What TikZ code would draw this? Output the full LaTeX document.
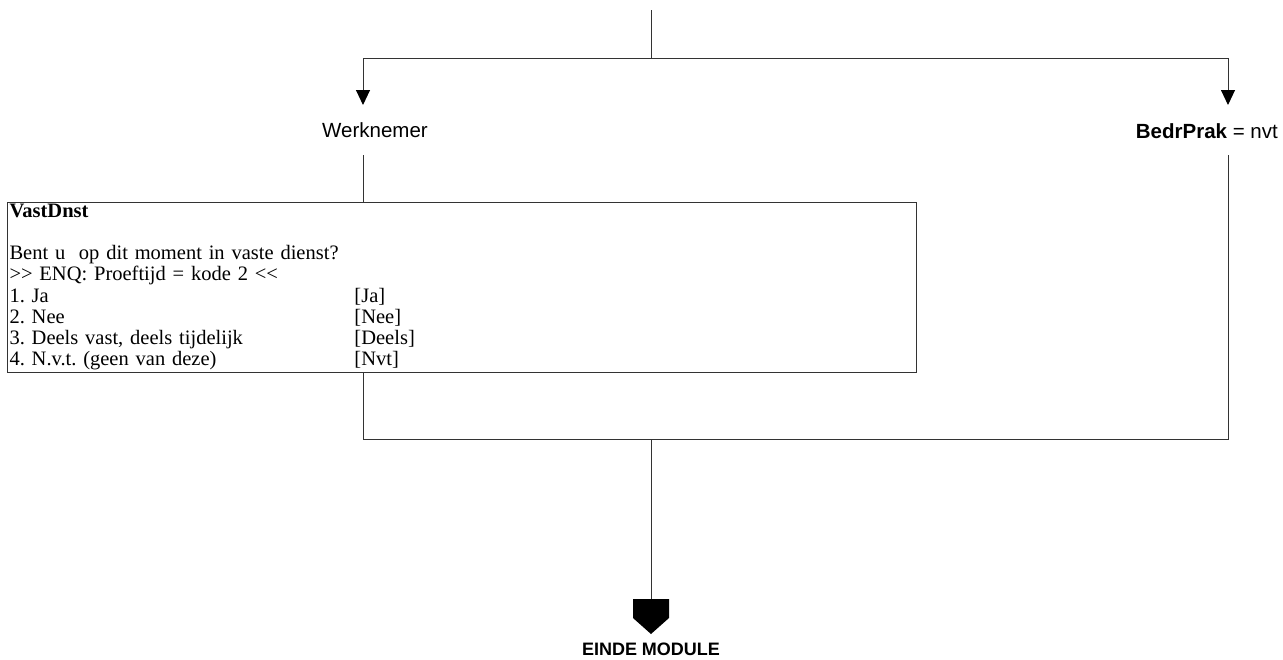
\documentclass[tikz,border=0pt]{standalone}
\usepackage{fontspec}
\setmainfont{Liberation Serif}[Ligatures=NoCommon]
\newfontfamily\arial{Liberation Sans}
\usetikzlibrary{arrows.meta}
\frenchspacing
\begin{document}
\begin{tikzpicture}[x=1pt,y=-1pt,
  conn/.style={draw=black!80,line width=1pt},
  arr/.style={conn,-{Triangle[width=14pt,length=15pt,color=black,fill=black]}},
  lbl/.style={font=\arial\fontsize{20.5}{22}\selectfont,inner sep=0pt,anchor=base},
  qbox/.style={draw=black!80,line width=1pt,anchor=north west,inner xsep=2pt,inner ysep=0pt,align=left,
    font=\fontsize{20.5}{21.2}\selectfont,minimum width=909pt,text width=905pt}]
\useasboundingbox (0,0) rectangle (1283,659);
\fill[white] (0,0) rectangle (1283,659);
% coordinates
\coordinate (top) at (651,10);
\coordinate (split) at (651,58);
\coordinate (wtip) at (363,105);
\coordinate (btip) at (1228,105);
\coordinate (wbot) at (363,155);
\coordinate (bbot) at (1228,155);
\coordinate (jl) at (363,439);
\coordinate (jr) at (1228,439);
\coordinate (join) at (651,439);
\coordinate (endtop) at (651,599);
% labels
\node[lbl] (werk) at (375,137) {Werknemer};
\node[lbl,anchor=base east] (bedr) at (1278,138) {\textbf{BedrPrak} = nvt};
% question box
\node[qbox] (box) at (7,202) {%
\setlength{\tabcolsep}{0pt}%
\begin{tabular}{@{}p{345pt}@{}l@{}}
\textbf{VastDnst} & \\
 & \\
\multicolumn{2}{@{}l@{}}{Bent u\ \ op dit moment in vaste dienst?}\\
\multicolumn{2}{@{}l@{}}{>{}> ENQ: Proeftijd = kode 2 <{}<}\\
1. Ja & [Ja]\\
2. Nee & [Nee]\\
3. Deels vast, deels tijdelijk & [Deels]\\
4. N.v.t. (geen van deze) & [Nvt]
\end{tabular}};
% connectors
\draw[conn] (top) -- (split);
\draw[arr] (split) -| (wtip);
\draw[arr] (split) -| (btip);
\draw[conn] (wbot) -- (wbot |- box.north);
\draw[conn] (wbot |- box.south) -- (jl) -- (jr) -- (bbot);
\draw[conn] (join) -- (endtop);
% end symbol
\fill[black] (633,599) -- (669,599) -- (669,618) -- (651,634) -- (633,618) -- cycle;
\node[lbl,font=\arial\bfseries\fontsize{18}{22}\selectfont] (einde) at (651,655) {EINDE MODULE};
\end{tikzpicture}
\end{document}
